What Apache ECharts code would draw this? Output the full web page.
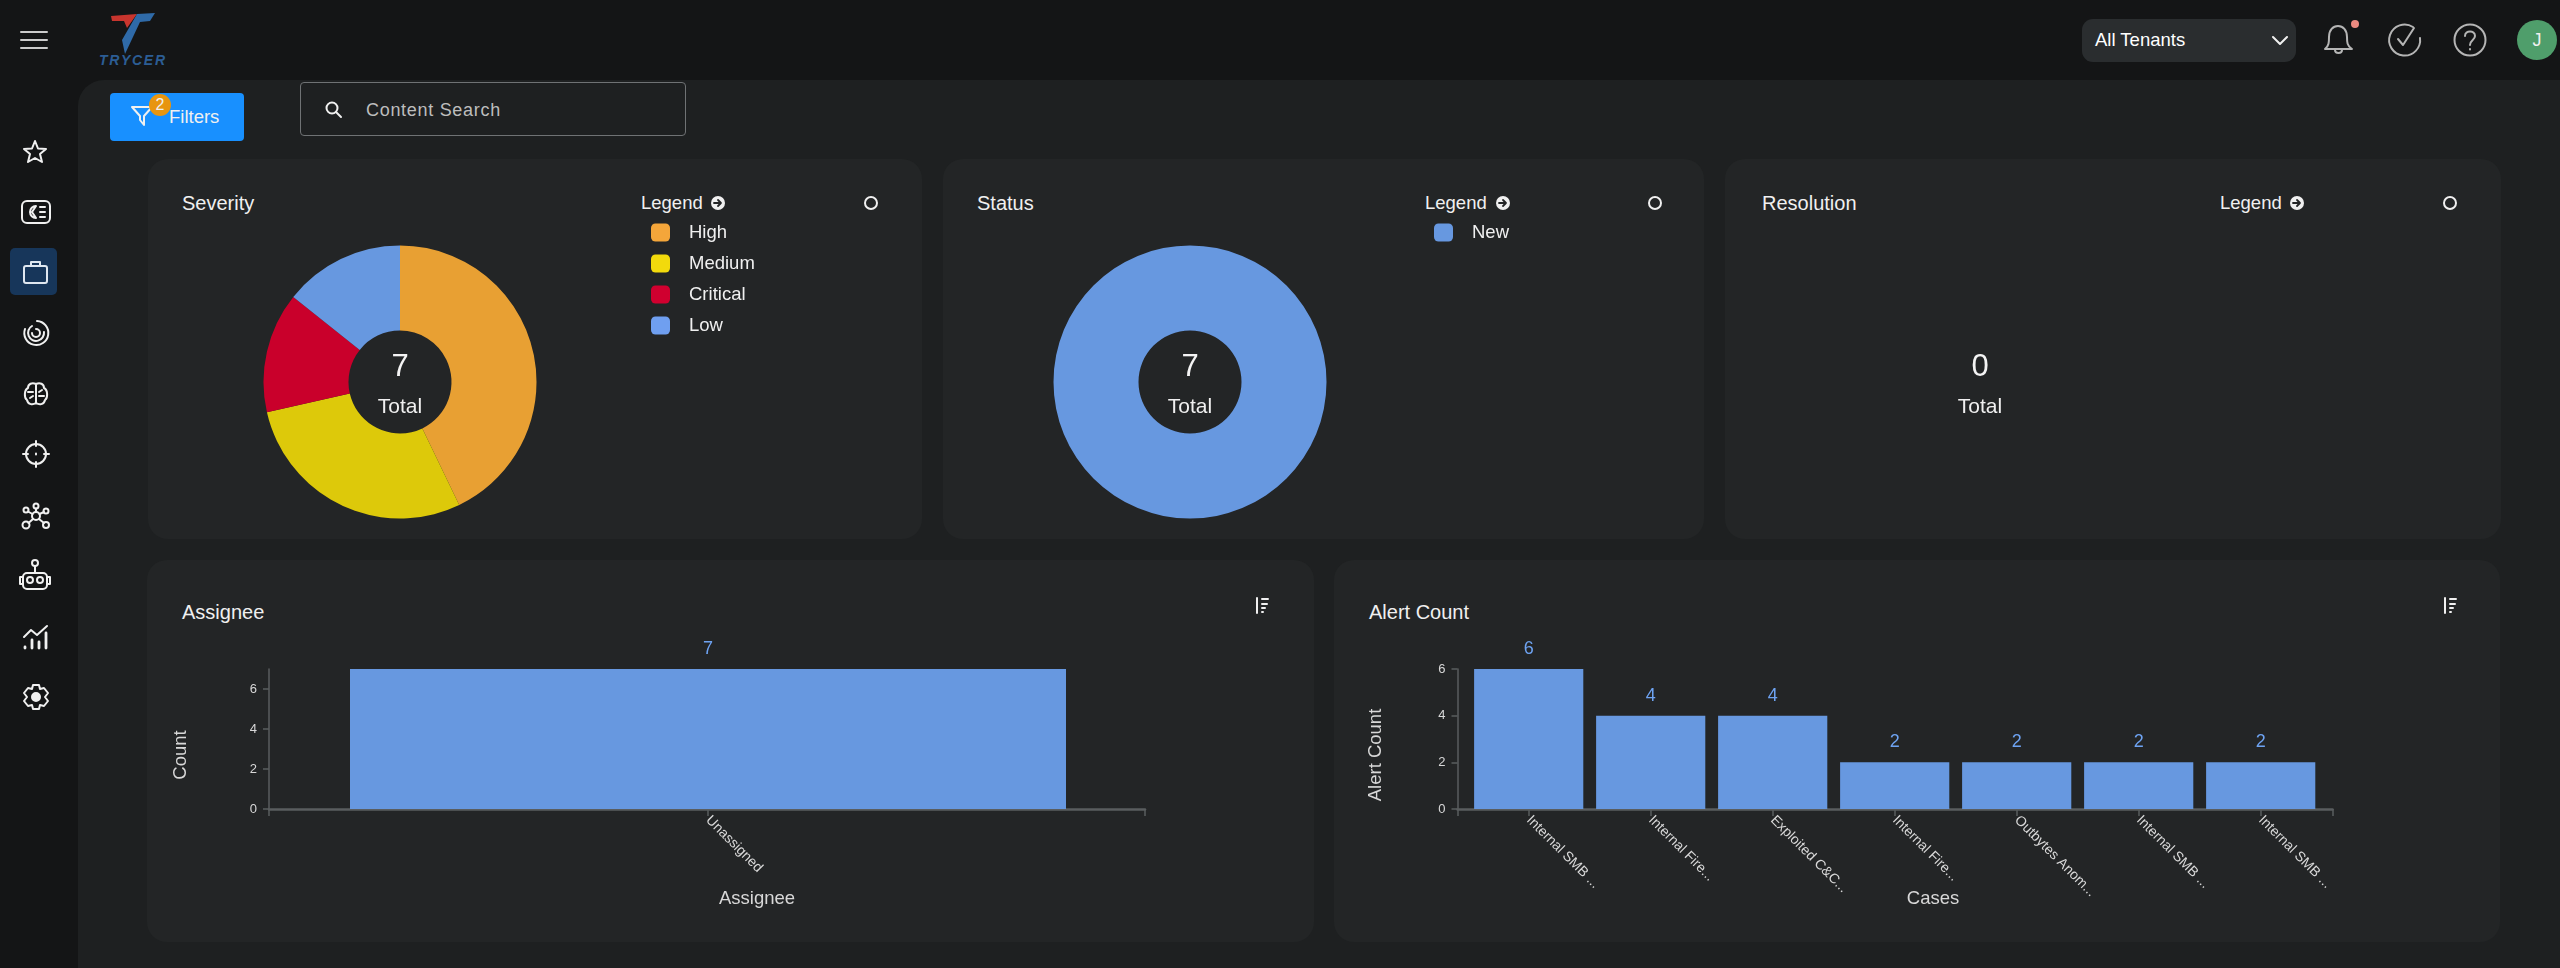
<!DOCTYPE html>
<html>
<head>
<meta charset="utf-8">
<title>Cases dashboard</title>
<script src="https://cdn.jsdelivr.net/npm/echarts@6/dist/echarts.min.js"></script>
<style>
    html, body { margin: 0; width: 2560px; height: 968px; overflow: hidden; background: #141516; font-family: "Liberation Sans", Arial, sans-serif; color: #f0f0f0; }
    #main { position: absolute; left: 78px; top: 80px; width: 2482px; height: 888px; background: #1e2021; border-top-left-radius: 26px; }
    .card { position: absolute; background: #232526; border-radius: 20px; }
    .t { position: absolute; white-space: nowrap; line-height: 24px; transform: translateY(-50%); }
    .title { font-size: 20px; }
    .legend { font-size: 18.5px; }
    svg.i { position: absolute; overflow: visible; fill: none; stroke: #f0f0f0; stroke-width: 2; stroke-linecap: round; stroke-linejoin: round; }
    #chart { position: absolute; left: 0; top: 0; width: 2560px; height: 968px; }
</style>
</head>
<body>
<div id="main"></div>
<div class="card" style="left:148px;top:159px;width:774px;height:380px"></div>
<div class="card" style="left:943px;top:159px;width:761px;height:380px"></div>
<div class="card" style="left:1725px;top:159px;width:776px;height:380px"></div>
<div class="card" style="left:147px;top:560px;width:1167px;height:382px"></div>
<div class="card" style="left:1334px;top:560px;width:1166px;height:382px"></div>

<!-- top bar -->
<svg class="i" style="left:21px;top:31px" width="26" height="18" stroke-width="2"><path d="M0 1H26M0 9H26M0 17H26" stroke="#ccc"/></svg>
<svg class="i" style="left:96px;top:10px;stroke:none" width="76" height="60">
    <polygon points="15,6 41,4 31,18 28,11 16,11" fill="#c8352e"/>
    <polygon points="41,4 59,3 54,11 44,12 29,44 26,30" fill="#2f6aa8"/>
    <text x="3" y="55" font-size="14" font-weight="bold" font-style="italic" fill="#2c5d94" stroke="none" textLength="66">TRYCER</text>
</svg>
<div style="position:absolute;left:110px;top:93px;width:134px;height:48px;background:#1890ff;border-radius:4px"></div>
<svg class="i" style="left:131px;top:105px" width="22" height="22" stroke-width="2.8"><path d="M1 2H21L13 11V20L9 15V11Z"/></svg>
<div style="position:absolute;left:149px;top:94px;width:22px;height:22px;border-radius:50%;background:#e8950f;text-align:center;font-size:16px;line-height:22px">2</div>
<div class="t" style="left:169px;top:117px;font-size:18.5px">Filters</div>
<div style="position:absolute;left:300px;top:82px;width:384px;height:52px;border:1.5px solid #6f7274;border-radius:4px"></div>
<svg class="i" style="left:325px;top:101px" width="18" height="18" stroke-width="2"><circle cx="7" cy="7" r="5.5"/><path d="M11 11L16 16"/></svg>
<div class="t" style="left:366px;top:110px;font-size:18px;letter-spacing:.7px;color:#bdbdbd">Content Search</div>

<div style="position:absolute;left:2082px;top:19px;width:214px;height:43px;background:#2a2d2f;border-radius:11px"></div>
<div class="t" style="left:2095px;top:40px;font-size:18.5px;color:#fff">All Tenants</div>
<svg class="i" style="left:2272px;top:36px" width="16" height="9"><path d="M1 1L8 8L15 1"/></svg>
<svg class="i" style="left:2323px;top:24px;stroke:#b5b5b5" width="32" height="32"><path d="M2 25C6 22 6 18 6 13C6 6 10 2 15 2C20 2 24 6 24 13C24 18 24 22 29 25Z M12 26C12 30 19 30 19 26"/></svg>
<div style="position:absolute;left:2351px;top:20px;width:8px;height:8px;border-radius:50%;background:#ec8a80"></div>
<svg class="i" style="left:2389px;top:24px;stroke:#b5b5b5" width="32" height="32"><path d="M24 3A15.500 15.500 0 1 0 31 14M9 15L14 21L25 4"/></svg>
<svg class="i" style="left:2454px;top:24px;stroke:#b5b5b5" width="32" height="32"><circle cx="16" cy="16" r="15.500"/><path d="M11 12C11 6 21 6 21 12C21 16 16 16 16 21M16 25V25.500"/></svg>
<div style="position:absolute;left:2517px;top:20px;width:40px;height:40px;border-radius:50%;background:#4f9e6b;text-align:center;line-height:40px;font-size:18px">J</div>

<!-- side menu -->
<svg class="i" style="left:23px;top:140px" width="24" height="24"><path d="M12 1L15 8.500L23 9L17 14L19 22L12 18L5 22L7 14L1 9L9 8.500Z"/></svg>
<svg class="i" style="left:21px;top:200px" width="30" height="24" stroke-width="2.400"><rect x="1" y="1" width="28" height="22" rx="5"/><path d="M15 6A6 6 0 1 0 15 18L11 12ZM19 7H24M19 12H24M19 17H24"/></svg>
<div style="position:absolute;left:10px;top:248px;width:47px;height:47px;border-radius:5px;background:#17365a"></div>
<svg class="i" style="left:23px;top:260px;stroke:#dfe7f0" width="25" height="24"><rect x="1" y="6" width="23" height="17" rx="2"/><path d="M8 6V2H17V6"/></svg>
<svg class="i" style="left:23px;top:320px" width="26" height="26" stroke-width="2.400"><path d="M14 1A12 12 0 1 1 2 9M9 6A8 8 0 1 0 21 12M13 9A4 4 0 1 1 9 13"/></svg>
<svg class="i" style="left:23px;top:382px" width="26" height="24"><path d="M13 2C9 0 5 2 5 6C1 8 1 16 4 18C5 23 10 23 13 21C16 23 21 23 22 18C25 16 25 8 21 6C21 2 17 0 13 2ZM13 2V21M5 10H10M21 14H16M7 16L10 14M19 8L16 10"/></svg>
<svg class="i" style="left:23px;top:441px" width="26" height="26"><circle cx="13" cy="13" r="10"/><path d="M13 0V5M13 21V26M0 13H5M21 13H26M13 12.500V13.500"/></svg>
<svg class="i" style="left:22px;top:503px" width="28" height="26"><circle cx="14" cy="13" r="4"/><circle cx="14" cy="3" r="2.500"/><circle cx="24" cy="8" r="2.500"/><circle cx="4" cy="7" r="2.500"/><circle cx="4" cy="22" r="3.500"/><circle cx="24" cy="22" r="3"/><path d="M14 5.500V9M17.500 11L22 9M10.500 11L6 8.500M11 16L6.500 20M17 16L22 20"/></svg>
<svg class="i" style="left:19px;top:560px" width="32" height="30"><rect x="4" y="13" width="24" height="16" rx="4"/><circle cx="11" cy="20" r="3"/><circle cx="21" cy="20" r="3"/><circle cx="16" cy="3" r="3"/><path d="M16 6V13M4 17H1V24H4M28 17H31V24H28"/></svg>
<svg class="i" style="left:23px;top:625px" width="26" height="24"><path d="M1 12L8 5L14 10L24 1"/><path d="M2 22V23M9 15V23M16 17V23M23 8V23" stroke-width="2.800"/></svg>
<svg class="i" style="left:23px;top:684px" width="26" height="26"><path d="M10 1H16L17 5L21 4L25 9L22 13L25 17L21 22L17 21L16 25H10L9 21L5 22L1 17L4 13L1 9L5 4L9 5Z"/><circle cx="13" cy="13" r="4" fill="#f0f0f0"/></svg>

<!-- card headers -->
<div class="t title" style="left:182px;top:203px">Severity</div>
<div class="t title" style="left:977px;top:203px">Status</div>
<div class="t title" style="left:1762px;top:203px">Resolution</div>
<div class="t title" style="left:182px;top:612px">Assignee</div>
<div class="t title" style="left:1369px;top:612px">Alert Count</div>
<div class="t legend" style="left:641px;top:203px">Legend</div>
<div class="t legend" style="left:1425px;top:203px">Legend</div>
<div class="t legend" style="left:2220px;top:203px">Legend</div>
<svg class="i" style="left:711px;top:196px" width="14" height="14"><circle cx="7" cy="7" r="7" fill="#f0f0f0" stroke="none"/><path d="M3 7H10M7 4L10 7L7 10" stroke="#232526" stroke-width="1.800"/></svg>
<svg class="i" style="left:1496px;top:196px" width="14" height="14"><circle cx="7" cy="7" r="7" fill="#f0f0f0" stroke="none"/><path d="M3 7H10M7 4L10 7L7 10" stroke="#232526" stroke-width="1.800"/></svg>
<svg class="i" style="left:2290px;top:196px" width="14" height="14"><circle cx="7" cy="7" r="7" fill="#f0f0f0" stroke="none"/><path d="M3 7H10M7 4L10 7L7 10" stroke="#232526" stroke-width="1.800"/></svg>
<svg class="i" style="left:864px;top:196px" width="14" height="14" stroke-width="1.600"><circle cx="7" cy="7" r="6"/></svg>
<svg class="i" style="left:1648px;top:196px" width="14" height="14" stroke-width="1.600"><circle cx="7" cy="7" r="6"/></svg>
<svg class="i" style="left:2443px;top:196px" width="14" height="14" stroke-width="1.600"><circle cx="7" cy="7" r="6"/></svg>
<svg class="i" style="left:1255px;top:597px" width="14" height="18"><path d="M2 1V16M7 2H13M7 7H12M7 11H10M7 15H8" stroke-width="2"/></svg>
<svg class="i" style="left:2443px;top:597px" width="14" height="18"><path d="M2 1V16M7 2H13M7 7H12M7 11H10M7 15H8" stroke-width="2"/></svg>

<div id="chart"></div>

<script type="text/javascript">
// pies
var severityNames = ['High', 'Medium', 'Critical', 'Low'];
var severityValues = [3, 2, 1, 1];
var severityColors = ['#e8a033', '#ddc90a', '#c9002b', '#6798e0'];
var severitySwatches = ['#f4a63a', '#f2da0c', '#d0002f', '#6f9ff0'];
var statusNames = ['New'];
var statusValues = [7];
var resolutionValues = [];

// bars
var assigneeNames = ['Unassigned'];
var assigneeCounts = [7];
var caseNames = ['Internal SMB ...', 'Internal Fire...', 'Exploited C&C...', 'Internal Fire...', 'Outbytes Anom...', 'Internal SMB ...', 'Internal SMB ...'];
var alertCounts = [6, 4, 4, 2, 2, 2, 2];

var BLUE = '#6798e0';
var AXIS = '#5a5d5f';
var LABEL = '#d8d8d8';

function sum(arr) {
    return arr.reduce(function (a, b) { return a + b; }, 0);
}

function pieData(names, values, colors) {
    return names.map(function (n, i) {
        return { name: n, value: values[i], itemStyle: { color: colors[i] } };
    });
}

function pieSeries(cx, data) {
    return {
        type: 'pie',
        center: [cx, 382],
        radius: [51.5, 136.5],
        silent: true,
        label: { show: false },
        labelLine: { show: false },
        emphasis: { disabled: true },
        data: data
    };
}

function pieLegend(left, names, swatches) {
    return {
        left: left,
        top: 223,
        padding: 0,
        orient: 'vertical',
        icon: 'roundRect',
        itemWidth: 19,
        itemHeight: 18,
        itemGap: 12,
        selectedMode: false,
        textStyle: { color: '#f0f0f0', fontSize: 18.5, fontFamily: 'Liberation Sans', padding: [0, 0, 0, 14] },
        data: names.map(function (n, i) {
            return { name: n, itemStyle: { color: swatches[i] } };
        })
    };
}

function totalText(cx, total) {
    return [
        { type: 'text', x: cx, y: 367, silent: true, style: { text: String(total), fill: '#f4f4f4', fontSize: 31, fontFamily: 'Liberation Sans', align: 'center', verticalAlign: 'middle' } },
        { type: 'text', x: cx, y: 407, silent: true, style: { text: 'Total', fill: '#f0f0f0', fontSize: 21, fontFamily: 'Liberation Sans', align: 'center', verticalAlign: 'middle' } }
    ];
}

var chart = echarts.init(document.getElementById('chart'), null, { renderer: 'canvas' });

var grids = [
    // Assignee: domain, then bands
    { left: 269, width: 876, top: 669, height: 140 },
    { left: 308, width: 800, top: 669, height: 140 },
    // Alert Count: domain, then bands
    { left: 1457.5, width: 875, top: 669, height: 140 },
    { left: 1467.7, width: 854, top: 669, height: 140 }
];

// the axis line runs past the outer bands, with a tick on each end
function domainAxis(gridIndex, name, padLeft) {
    return {
        gridIndex: gridIndex,
        type: 'category',
        boundaryGap: false,
        data: ['', ''],
        axisLine: { lineStyle: { color: AXIS, width: 2.5 } },
        axisTick: { show: true, length: 7, lineStyle: { color: AXIS, width: 1.5 } },
        axisLabel: { show: false },
        name: name,
        nameLocation: 'middle',
        nameGap: 80,
        nameTextStyle: { color: LABEL, fontSize: 18.5, fontFamily: 'Liberation Sans', padding: [0, 0, 0, padLeft] }
    };
}

function bandAxis(gridIndex, names) {
    return {
        gridIndex: gridIndex,
        type: 'category',
        data: names,
        axisLine: { show: false },
        axisTick: { show: true, alignWithLabel: true, length: 7, lineStyle: { color: AXIS, width: 1.5 } },
        axisLabel: { color: LABEL, fontSize: 14, fontFamily: 'Liberation Sans', rotate: -45, margin: 9, interval: 0 }
    };
}

function hiddenY(gridIndex, max) {
    return { gridIndex: gridIndex, type: 'value', min: 0, max: max, show: false };
}

function countAxis(gridIndex, max, offset, name, nameGap, showTop) {
    return {
        gridIndex: gridIndex,
        type: 'value',
        min: 0,
        max: max,
        interval: 2,
        offset: offset,
        splitLine: { show: false },
        axisLine: { show: true, lineStyle: { color: AXIS, width: 1.5 } },
        axisTick: { show: true, length: 6, lineStyle: { color: AXIS, width: 1.5 } },
        axisLabel: { color: LABEL, fontSize: 13, fontFamily: 'Liberation Sans', margin: 12, showMaxLabel: showTop },
        name: name,
        nameLocation: 'middle',
        nameGap: nameGap,
        nameTextStyle: { color: LABEL, fontSize: 18.5, fontFamily: 'Liberation Sans', padding: [0, 32, 0, 0] }
    };
}

function barSeries(axisIndex, values) {
    return {
        type: 'bar',
        xAxisIndex: axisIndex,
        yAxisIndex: axisIndex,
        barWidth: '89.5%',
        silent: true,
        itemStyle: { color: BLUE },
        label: { show: true, position: 'top', distance: 11, color: '#6ea3f2', fontSize: 18, fontFamily: 'Liberation Sans' },
        data: values
    };
}

var option = {
    animation: false,
    backgroundColor: 'transparent',
    tooltip: { show: false },
    legend: [
        pieLegend(651, severityNames, severitySwatches),
        pieLegend(1434, statusNames, [BLUE])
    ],
    grid: grids,
    xAxis: [
        domainAxis(0, 'Assignee', 100),
        bandAxis(1, assigneeNames),
        domainAxis(2, 'Cases', 76),
        bandAxis(3, caseNames)
    ],
    yAxis: [
        hiddenY(0, 7),
        countAxis(1, 7, 39, 'Count', 79, false),
        hiddenY(2, 6),
        countAxis(3, 6, 10.2, 'Alert Count', 72, true)
    ],
    series: [
        pieSeries(400, pieData(severityNames, severityValues, severityColors)),
        pieSeries(1190, pieData(statusNames, statusValues, [BLUE])),
        barSeries(1, assigneeCounts),
        barSeries(3, alertCounts)
    ],
    graphic: totalText(400, sum(severityValues))
        .concat(totalText(1190, sum(statusValues)))
        .concat(totalText(1980, sum(resolutionValues)))
};

chart.setOption(option);
</script>
</body>
</html>
